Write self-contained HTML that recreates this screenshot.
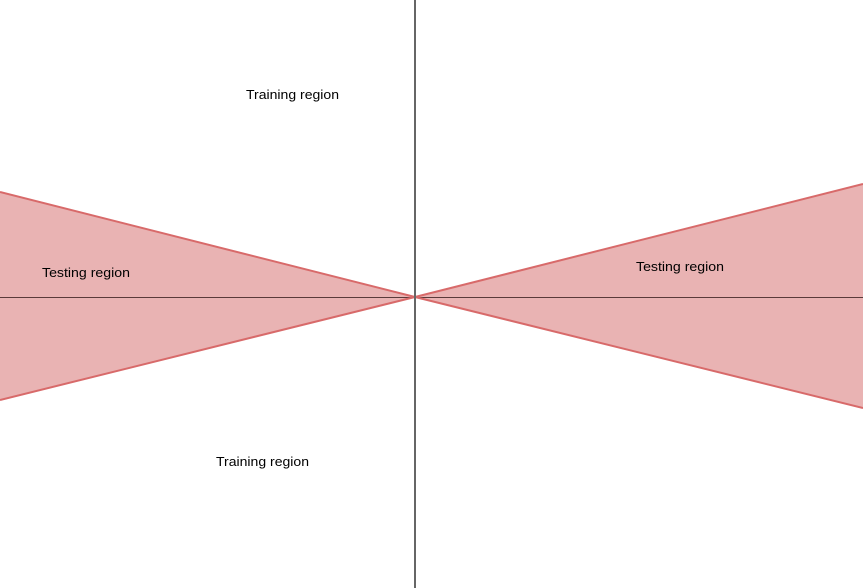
<!DOCTYPE html>
<html><head><style>
html,body{margin:0;padding:0;background:#fff;}
svg{display:block;}
text{font-family:"Liberation Sans",sans-serif;font-size:13px;fill:#000;}
</style></head><body>
<svg width="863" height="588" viewBox="0 0 863 588" xmlns="http://www.w3.org/2000/svg">
<rect width="863" height="588" fill="#fff"/>
<polygon points="0,192 415,297 0,400" fill="#e9b3b3"/>
<polygon points="863,184 415,297 863,408" fill="#e9b3b3"/>
<line x1="0" y1="297.5" x2="863" y2="297.5" stroke="#5a3a3a" stroke-width="1"/>
<line x1="0" y1="192" x2="415" y2="297" stroke="#d86a6a" stroke-width="2"/>
<line x1="0" y1="400" x2="415" y2="297" stroke="#d86a6a" stroke-width="2"/>
<line x1="863" y1="184" x2="415" y2="297" stroke="#d86a6a" stroke-width="2"/>
<line x1="863" y1="408" x2="415" y2="297" stroke="#d86a6a" stroke-width="2"/>
<line x1="415" y1="0" x2="415" y2="588" stroke="#666" stroke-width="2"/>
<text x="246" y="99" textLength="93" lengthAdjust="spacingAndGlyphs">Training region</text>
<text x="216" y="466" textLength="93" lengthAdjust="spacingAndGlyphs">Training region</text>
<text x="42" y="277" textLength="88" lengthAdjust="spacingAndGlyphs">Testing region</text>
<text x="636" y="271" textLength="88" lengthAdjust="spacingAndGlyphs">Testing region</text>
</svg>
</body></html>
